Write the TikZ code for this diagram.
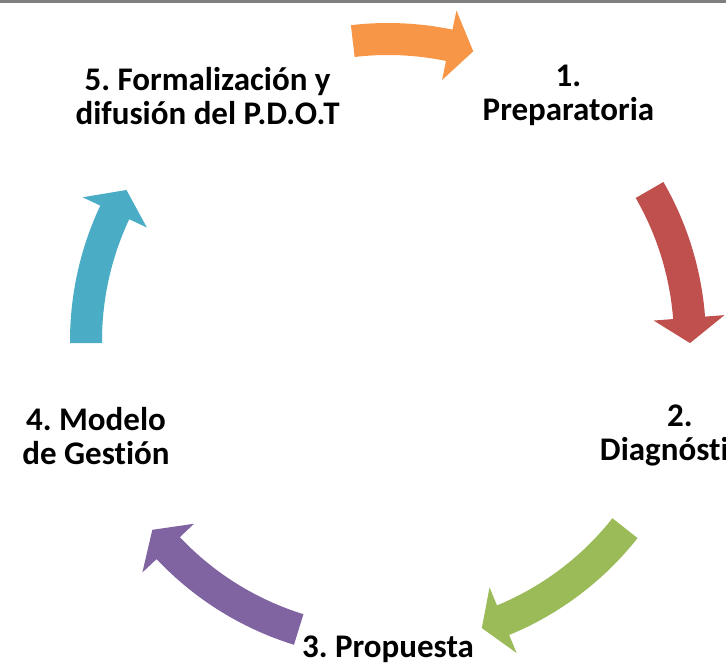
\documentclass[tikz,border=0pt]{standalone}
\usepackage{fontspec}
\setmainfont{Carlito}[Ligatures=NoCommon]
\frenchspacing
\usetikzlibrary{calc}
\definecolor{accRed}{HTML}{C0504D}
\definecolor{accGreen}{HTML}{9BBB59}
\definecolor{accPurple}{HTML}{8064A2}
\definecolor{accTeal}{HTML}{4BACC6}
\definecolor{accOrange}{HTML}{F79646}
\definecolor{ruleGray}{HTML}{7F7F7F}
\tikzset{steplabel/.style={font=\fontsize{33}{34}\selectfont\bfseries,align=center,inner sep=0pt}}

\begin{document}
\begin{tikzpicture}

      \useasboundingbox (0,0) rectangle (726pt,662pt);
      % top rule
      \fill[ruleGray] (0,658.5pt) rectangle (726pt,662pt);

      \def\cR{302}
      \def\lR{307}
      \def\shaftW{16}
      \def\headW{35.5}
      \pgfmathsetmacro\rOut{\cR+\shaftW}
      \pgfmathsetmacro\rIn{\cR-\shaftW}
      \pgfmathsetmacro\hOut{\cR+\headW}
      \pgfmathsetmacro\hIn{\cR-\headW}

      \begin{scope}[shift={(388pt,321pt)}]
      % draw the arrows
      \foreach \col/\ta/\ba/\tip in {accRed/30/4.4/-0.4, accGreen/-38.3/-67.6/-71.9,
        accPurple/-107.2/-136.7/-141.3, accTeal/180.4/154.8/150, accOrange/96.7/78.3/73.6}
        \fill[\col] (\ta:\rOut pt) arc[start angle=\ta, end angle=\ba, radius=\rOut pt]
          -- (\ba:\hOut pt) -- (\tip:\cR pt) -- (\ba:\hIn pt) -- (\ba:\rIn pt)
          arc[start angle=\ba, end angle=\ta, radius=\rIn pt] -- cycle;

      % draw the labels
      \foreach \ang/\dy/\txt [count=\ni] in {54/-3/{1.\\Preparatoria}, -18/0/{2.\\Diagnóstico},
        -90/-1/{3. Propuesta}, 198/0/{4. Modelo\\de Gestión}, 126/-3/{5. Formalización y\\difusión del P.D.O.T}}
        \node[steplabel,yshift=\dy pt] (step\ni) at (\ang:\lR pt) {\txt};
      \end{scope}

\end{tikzpicture}
\end{document}
